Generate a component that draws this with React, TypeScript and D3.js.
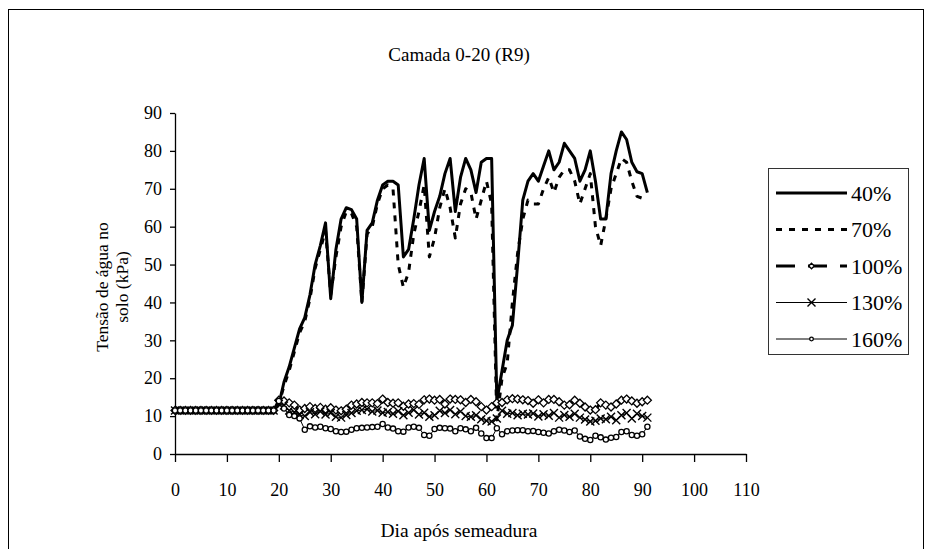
import React, { useEffect, useRef } from "react";
import * as d3 from "d3";

// tensão (kPa) por dia após semeadura, dias 0..91
const base = [11.5, 11.5, 11.5, 11.5, 11.5, 11.5, 11.5, 11.5, 11.5, 11.5, 11.5, 11.5, 11.5, 11.5, 11.5, 11.5, 11.5, 11.5, 11.5, 11.5];

const s40 = [...base,
  13, 19, 23, 28, 33, 36, 42, 50, 55, 61,
  41, 54, 62, 65, 64.5, 62, 40, 59, 61, 67,
  71, 72, 72, 71, 52, 54, 62, 71, 78, 59,
  64, 68, 74, 78, 64, 73, 78, 75, 69, 77,
  78, 78, 14, 22, 30, 34, 50, 67, 72, 74,
  72, 76, 80, 75, 77, 82, 80, 78, 72, 75,
  80, 72, 62, 62, 74, 80, 85, 83, 77, 74.5,
  74, 69];

const s70 = [...base,
  13, 18, 22, 27, 32, 35, 41, 49, 54, 59,
  42, 52, 60, 64, 63.5, 60, 40, 58, 60, 66,
  70, 71, 70, 50, 44, 48, 58, 64, 71, 52,
  57, 65, 70, 65, 57, 66, 70, 69, 62, 67,
  72, 66, 9, 20, 24, 40, 53, 62, 67, 66,
  66, 70, 73, 69, 73, 75, 75, 72, 66, 70,
  74, 60, 55, 62, 70, 74, 78, 77, 72, 68,
  67.5, 67.5];

const s100 = [...base,
  14.2, 14, 13.5, 12.9, 11.6, 12, 12.5, 12, 12.3, 11.8,
  12.2, 11.6, 11.4, 11.8, 12.9, 13.2, 13.6, 13.5, 13.5, 13.3,
  14.5, 13.6, 13.4, 13.5, 12.6, 13.2, 13.3, 13.1, 14.3, 14.5,
  14.2, 14.4, 13.2, 14.5, 14.4, 14.3, 13.6, 14.4, 13.8, 12.5,
  11.6, 12.5, 13.5, 13.6, 14.3, 14.6, 14.5, 14.3, 14.1, 13.4,
  14.3, 13.5, 14.4, 14.4, 13.8, 12.9, 13, 14.2, 13.4, 12.4,
  11.6, 11.7, 13.5, 12.9, 12.4, 13.2, 14.2, 14.5, 14, 13.4,
  13.8, 14.2];

const s130 = [...base,
  13.2, 12.8, 11.5, 11, 10.3, 10, 11, 10.5, 11.2, 10.4,
  10.8, 9.8, 9.6, 10.3, 10.8, 11.4, 11.6, 11.8, 11.2, 11.5,
  10.9, 11.1, 10.6, 11.3, 10.2, 10.9, 11.6, 10.4, 10.9, 9.8,
  10.2, 11.4, 10.8, 11.6, 10.5, 11.2, 10, 9.8, 10.2, 9.2,
  8.8, 8.6, 9.4, 11.4, 10.6, 10.8, 10.2, 10.6, 10.4, 10.7,
  9.9, 10.5, 10.1, 10.8, 9.6, 10.3, 9.8, 10.6, 9.6, 9.1,
  8.6, 8.8, 9.4, 9.2, 9.8, 8.9, 10.2, 10.8, 9.4, 10.6,
  10, 9.6];

const s160 = [...base,
  14, 12, 10.3, 10, 9.4, 6.4, 7.3, 7, 7.2, 6.8,
  6.6, 6, 5.8, 5.9, 6.4, 6.8, 6.9, 7, 7.1, 7.2,
  7.9, 7, 6.7, 6, 5.9, 7, 7.2, 6.9, 5, 4.8,
  6.6, 6.9, 6.8, 6.7, 6, 6.8, 6.5, 6, 6.9, 5.4,
  4.2, 4.2, 6.8, 5.2, 6, 6.2, 6.3, 6.3, 6, 6.1,
  5.8, 5.6, 5.4, 6, 6.4, 6.2, 5.8, 6.2, 4.6, 4,
  3.7, 4.8, 4.4, 3.8, 4.3, 4.5, 5.8, 6, 5, 4.8,
  5.2, 7.2];

const seriesNames = ["40%", "70%", "100%", "130%", "160%"];
const xTicks = d3.range(0, 111, 10);
const yTicks = d3.range(0, 91, 10);

const font = "'Liberation Serif', 'Times New Roman', serif";

const styles: Record<string, { w: number; dash: string | null; marker: string | null }> = {
  "40%": { w: 3, dash: null, marker: null },
  "70%": { w: 3, dash: "6,7", marker: null },
  "100%": { w: 3, dash: "18,12", marker: "diamond" },
  "130%": { w: 1, dash: null, marker: "x" },
  "160%": { w: 1, dash: null, marker: "circle" },
};

function drawMarker(g: any, kind: string | null, cx: number, cy: number, s = 1) {
  if (kind === "diamond") {
    const r = 4 * s;
    g.append("path")
      .attr("d", `M${cx},${cy - r}L${cx + r},${cy}L${cx},${cy + r}L${cx - r},${cy}Z`)
      .attr("fill", "white").attr("stroke", "black").attr("stroke-width", 1.3);
  } else if (kind === "circle") {
    g.append("circle").attr("cx", cx).attr("cy", cy).attr("r", 2.6 * s)
      .attr("fill", "white").attr("stroke", "black").attr("stroke-width", 1.3);
  } else if (kind === "x") {
    const r = 4 * s;
    g.append("path")
      .attr("d", `M${cx - r},${cy - r}L${cx + r},${cy + r}M${cx - r},${cy + r}L${cx + r},${cy - r}`)
      .attr("stroke", "black").attr("stroke-width", 1.4);
  }
}

export default function App() {
  const ref = useRef<SVGSVGElement>(null);

  useEffect(() => {
    document.body.style.margin = "0";
    const width = 932;
    const height = 549;
    const svg = d3.select(ref.current).attr("width", width).attr("height", height);
    svg.selectAll("*").remove();

    const x = d3.scaleLinear().domain([0, 110]).range([175, 746]);
    const y = d3.scaleLinear().domain([0, 90]).range([454, 113]);

    // moldura externa
    svg.append("rect")
      .attr("x", 8.5).attr("y", 9.5).attr("width", 915).attr("height", 560)
      .attr("fill", "none").attr("stroke", "black").attr("stroke-width", 1);

    svg.append("text")
      .attr("x", 459).attr("y", 54).attr("dy", "0.35em")
      .attr("text-anchor", "middle").attr("font-family", font).attr("font-size", 19)
      .text("Camada 0-20 (R9)");

    const xAxis = svg.append("g")
      .attr("transform", `translate(0,454)`)
      .call(d3.axisBottom(x).tickValues(xTicks).tickSize(8).tickSizeOuter(0).tickPadding(0));
    xAxis.selectAll("text").attr("y", 36).attr("dy", "0.35em");

    const yAxis = svg.append("g")
      .attr("transform", `translate(175,0)`)
      .call(d3.axisLeft(y).tickValues(yTicks).tickSize(5).tickSizeOuter(0).tickPadding(8));

    [xAxis, yAxis].forEach(a => {
      a.select(".domain").attr("stroke", "black").attr("stroke-width", 1.3);
      a.selectAll(".tick line").attr("stroke", "black").attr("stroke-width", 1.3);
      a.selectAll("text").attr("font-family", font).attr("font-size", 18).attr("fill", "black");
    });

    svg.append("text")
      .attr("x", 459).attr("y", 530).attr("dy", "0.35em")
      .attr("text-anchor", "middle").attr("font-family", font).attr("font-size", 19.5)
      .text("Dia após semeadura");

    const ylab = svg.append("text")
      .attr("transform", "translate(102,287) rotate(-90)")
      .attr("text-anchor", "middle").attr("font-family", font).attr("font-size", 17.5);
    ylab.append("tspan").attr("x", 0).attr("y", 0).attr("dy", "0.35em").text("Tensão de água no");
    ylab.append("tspan").attr("x", 0).attr("y", 20).attr("dy", "0.35em").text("solo (kPa)");

    const data = [s40, s70, s100, s130, s160];
    const line = d3.line<number>().x((_, i) => x(i)).y(d => y(d));

    data.forEach((vals, k) => {
      const st = styles[seriesNames[k]];
      const g = svg.append("g");
      g.append("path")
        .attr("d", line(vals))
        .attr("fill", "none").attr("stroke", "black")
        .attr("stroke-width", st.w)
        .attr("stroke-linejoin", "round")
        .attr("stroke-dasharray", st.dash);
      vals.forEach((v, i) => drawMarker(g, st.marker, x(i), y(v)));
    });

    // legenda
    const lg = svg.append("g");
    lg.append("rect")
      .attr("x", 768.5).attr("y", 168.5).attr("width", 140).attr("height", 186)
      .attr("fill", "white").attr("stroke", "#333").attr("stroke-width", 1);
    seriesNames.forEach((name, i) => {
      const st = styles[name];
      const ly = 193 + i * 36.5;
      const item = lg.append("g");
      item.append("line")
        .attr("x1", 776).attr("x2", 847).attr("y1", ly).attr("y2", ly)
        .attr("stroke", "black").attr("stroke-width", st.w)
        .attr("stroke-dasharray", name === "100%" ? "19,13" : st.dash);
      drawMarker(item, st.marker, 811.5, ly, name === "130%" ? 1 : 0.7);
      item.append("text")
        .attr("x", 851).attr("y", ly).attr("dy", "0.35em")
        .attr("font-family", font).attr("font-size", 22)
        .text(name);
    });
  }, []);

  return <svg ref={ref} style={{ display: "block" }} />;
}
